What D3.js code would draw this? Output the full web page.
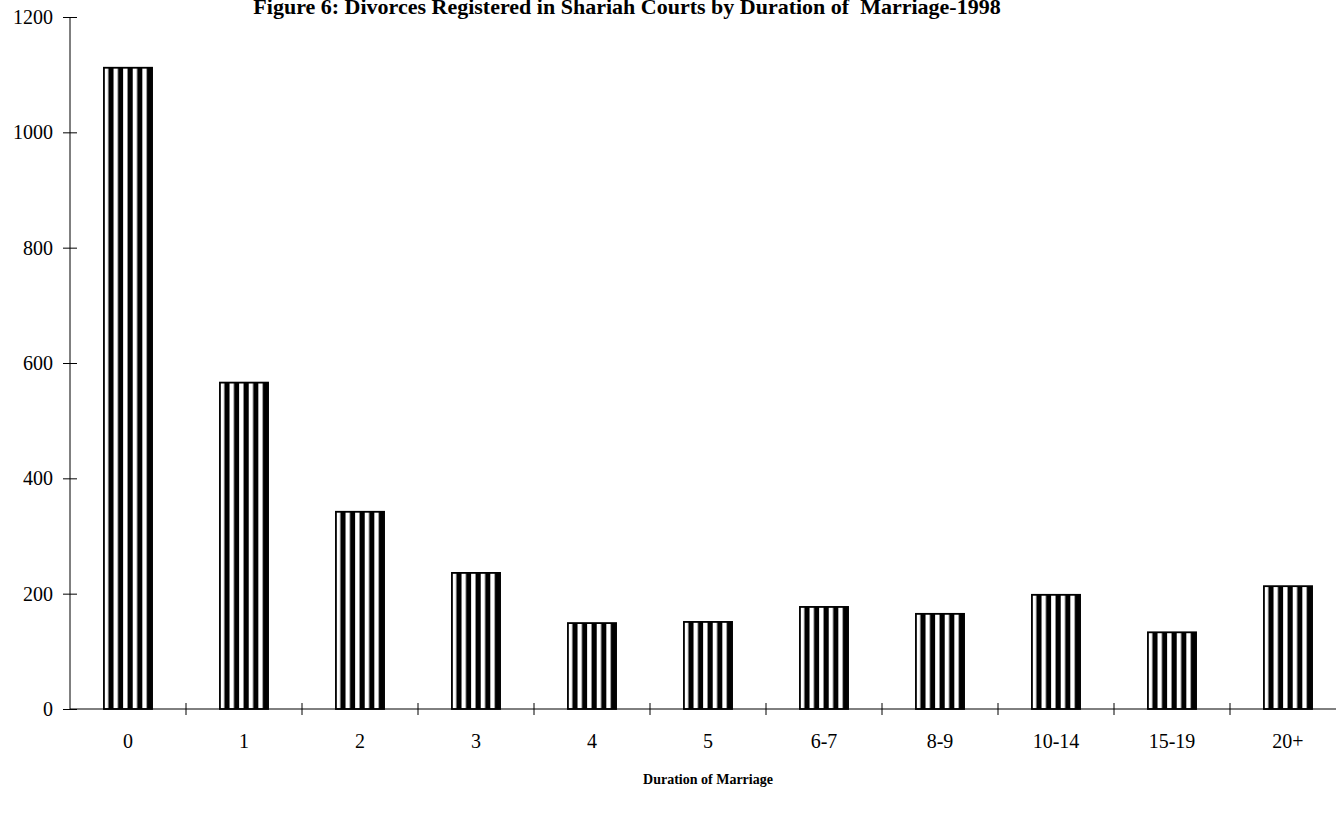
<!DOCTYPE html>
<html>
<head>
<meta charset="utf-8">
<script src="https://cdn.jsdelivr.net/npm/d3@7"></script>
<style>
  body { margin: 0; background: #fff; }
  svg { display: block; font-family: "Liberation Serif", "Times New Roman", serif; }
</style>
</head>
<body>
<svg id="chart" width="1336" height="822"></svg>
<script>
const durations = ["0", "1", "2", "3", "4", "5", "6-7", "8-9", "10-14", "15-19", "20+"];
const divorces = [1112, 566, 342, 236, 149, 151, 177, 165, 198, 133, 213];
const yTicks = [0, 200, 400, 600, 800, 1000, 1200];

const titleText = "Figure 6: Divorces Registered in Shariah Courts by Duration of  Marriage-1998";
const xTitle = "Duration of Marriage";

const svg = d3.select("#chart");
const margin = {left: 70, top: 17, bottom: 113};
const plotW = 116 * durations.length;
const plotH = 822 - margin.top - margin.bottom;

const x = d3.scaleBand()
    .domain(durations)
    .range([margin.left, margin.left + plotW])
    .paddingInner(0.585)
    .paddingOuter(0.2925);

const y = d3.scaleLinear()
    .domain([0, 1200])
    .range([margin.top + plotH, margin.top]);

// vertical stripe fill, one pattern per bar so each starts on the same phase
const defs = svg.append("defs");
durations.forEach((d, i) => {
    const p = defs.append("pattern")
        .attr("id", "stripes-" + i)
        .attr("patternUnits", "userSpaceOnUse")
        .attr("width", 9.6)
        .attr("height", 10)
        .attr("x", x(d));
    p.append("rect").attr("width", 9.6).attr("height", 10).attr("fill", "#fff");
    p.append("rect").attr("x", 4.4).attr("width", 5.2).attr("height", 10).attr("fill", "#000");
});

svg.append("g")
    .selectAll("rect")
    .data(durations)
    .join("rect")
    .attr("x", d => x(d))
    .attr("y", (d, i) => y(divorces[i]))
    .attr("width", x.bandwidth())
    .attr("height", (d, i) => y(0) - y(divorces[i]))
    .attr("fill", (d, i) => `url(#stripes-${i})`)
    .attr("stroke", "#000")
    .attr("stroke-width", 1.8);

// y axis
const yAxis = svg.append("g")
    .attr("transform", `translate(${margin.left},0)`)
    .call(d3.axisLeft(y).tickValues(yTicks).tickFormat(d3.format("d")).tickSize(7).tickPadding(10));
yAxis.select(".domain").attr("d", `M0,${y(0)}V${y(1200)}`);
yAxis.selectAll(".tick line").attr("x2", 7).attr("x1", -7);
yAxis.selectAll("text")
    .style("font-size", "20px")
    .style("font-family", "Liberation Serif")
    .attr("fill", "#000");

// x axis, ticks at category boundaries
const xAxisG = svg.append("g").attr("transform", `translate(0,${y(0)})`);
xAxisG.append("line")
    .attr("x1", margin.left).attr("x2", margin.left + plotW)
    .attr("stroke", "#000");
xAxisG.selectAll("line.tk")
    .data(durations)
    .join("line")
    .attr("class", "tk")
    .attr("x1", (d, i) => margin.left + x.step() * (i + 1))
    .attr("x2", (d, i) => margin.left + x.step() * (i + 1))
    .attr("y1", -6).attr("y2", 6)
    .attr("stroke", "#000");
xAxisG.selectAll("text")
    .data(durations)
    .join("text")
    .attr("x", d => x(d) + x.bandwidth() / 2)
    .attr("y", 39)
    .attr("text-anchor", "middle")
    .style("font-size", "20px")
    .text(d => d);

svg.append("text")
    .attr("x", margin.left + plotW / 2)
    .attr("y", 784)
    .attr("text-anchor", "middle")
    .style("font-size", "14px")
    .style("font-weight", "bold")
    .text(xTitle);

svg.append("text")
    .attr("x", 627)
    .attr("y", 14)
    .attr("text-anchor", "middle")
    .style("font-size", "22px")
    .style("font-weight", "bold")
    .style("white-space", "pre")
    .text(titleText);
</script>
</body>
</html>
